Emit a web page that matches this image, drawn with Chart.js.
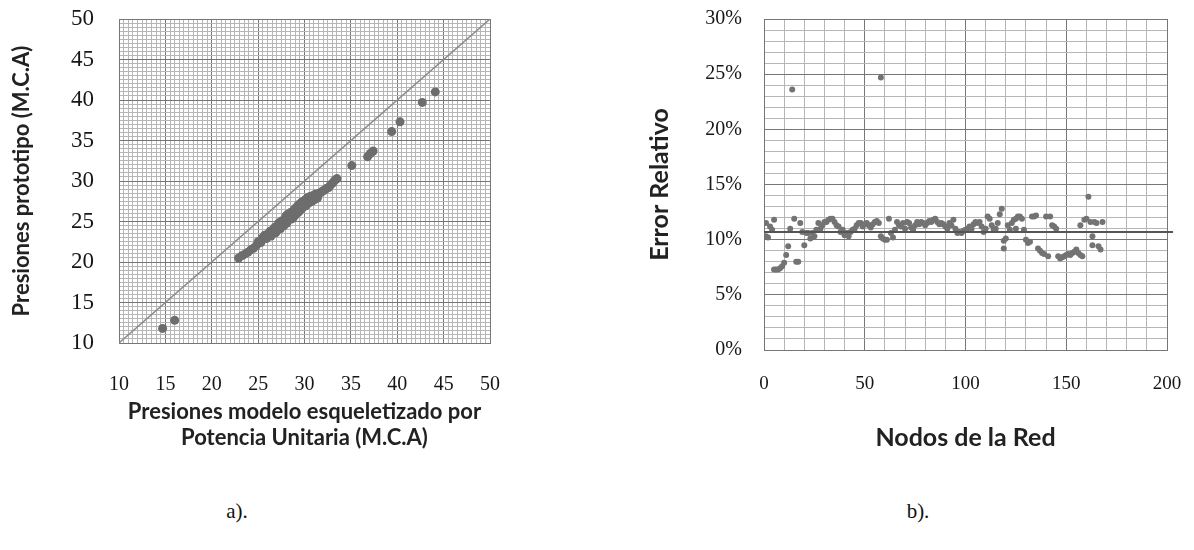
<!DOCTYPE html>
<html>
<head>
<meta charset="utf-8">
<script src="https://cdn.jsdelivr.net/npm/chart.js@4.4.0/dist/chart.umd.min.js"></script>
<style>
  body { margin: 0; background: #fff; width: 1194px; height: 550px; overflow: hidden; position: relative; }
  canvas { position: absolute; top: 0; }
  #chartA { left: 0; }
  #chartB { left: 600px; }
  .cap { position: absolute; top: 499px; font: 21px "Liberation Serif", serif; color: #111; transform: translateX(-50%); }
</style>
</head>
<body>
<canvas id="chartA" width="560" height="470"></canvas>
<canvas id="chartB" width="594" height="470"></canvas>
<div class="cap" style="left:237px">a).</div>
<div class="cap" style="left:918px">b).</div>
<script>
// a) presiones: modelo esqueletizado (x) vs prototipo (y), M.C.A
const presModelo = [
  14.7, 16.0,
  22.9, 23.3, 23.6, 23.9, 24.2, 24.5, 24.8, 25.0, 25.3, 25.5,
  25.7, 25.9, 26.1, 26.3, 26.4, 26.6, 26.8, 26.9, 27.1, 27.2,
  27.4, 27.5, 27.6, 27.8, 27.9, 28.0, 28.1, 28.2, 28.3, 28.5,
  28.6, 28.7, 28.8, 28.9, 29.0, 29.1, 29.2, 29.3, 29.4, 29.5,
  29.6, 29.7, 29.8, 29.9, 30.0, 30.1, 30.2, 30.3, 30.5, 30.6,
  30.8, 30.9, 31.1, 31.2, 31.4, 31.6, 31.8, 32.0, 32.2, 32.4,
  32.6, 32.8, 33.0, 33.2, 33.4, 33.5,
  35.1, 36.8, 37.1, 37.4, 39.4, 40.3, 42.7, 44.1
];
const presPrototipo = [
  11.8, 12.8,
  20.5, 20.8, 21.0, 21.2, 21.5, 21.7, 22.0, 22.5, 22.4, 23.0,
  23.3, 22.9, 23.5, 23.8, 23.2, 24.0, 24.3, 23.6, 24.4, 24.8,
  24.1, 25.0, 25.1, 24.5, 25.3, 25.7, 24.8, 25.9, 25.2, 26.1,
  25.3, 26.2, 25.5, 26.5, 25.8, 26.7, 26.0, 27.0, 26.2, 27.2,
  26.5, 27.4, 26.7, 27.5, 26.9, 27.7, 27.0, 27.9, 27.3, 28.1,
  27.5, 28.2, 27.7, 28.4, 27.9, 28.5, 28.6, 28.8, 28.9, 29.1,
  29.2, 29.5, 29.7, 30.0, 30.2, 30.3,
  31.9, 33.0, 33.4, 33.7, 36.1, 37.3, 39.7, 41.0
];
const identidad = [10, 50];
const ticksPresion = [10, 15, 20, 25, 30, 35, 40, 45, 50];

// b) error relativo por nodo de la red (%)
const nodos = [
  1, 1, 2, 3, 4, 5, 5, 6, 7, 8,
  9, 10, 11, 12, 13, 14, 15, 16, 17, 18,
  19, 20, 21, 22, 23, 24, 25, 26, 27, 28,
  29, 30, 31, 32, 33, 34, 35, 36, 37, 38,
  39, 40, 41, 42, 43, 44, 45, 46, 47, 48,
  49, 50, 51, 52, 53, 54, 55, 56, 57, 58,
  58, 59, 60, 61, 62, 63, 64, 65, 66, 67,
  68, 69, 70, 71, 72, 73, 74, 75, 76, 77,
  78, 79, 80, 81, 82, 83, 84, 85, 86, 87,
  88, 89, 90, 91, 92, 93, 94, 95, 96, 97,
  98, 99, 100, 101, 102, 103, 104, 105, 106, 107,
  108, 109, 110, 111, 112, 113, 114, 115, 116, 117,
  118, 119, 119, 120, 121, 122, 123, 124, 125, 125,
  126, 127, 128, 129, 130, 131, 132, 133, 134, 135,
  136, 137, 138, 139, 140, 141, 142, 143, 144, 145,
  146, 147, 148, 149, 150, 151, 152, 153, 154, 155,
  156, 157, 157, 158, 159, 160, 161, 162, 163, 163,
  164, 165, 166, 167, 168
];
const errorRel = [
  10.3, 11.5, 10.2, 11.2, 10.9, 11.8, 7.3, 7.3, 7.3, 7.4,
  7.6, 7.9, 8.6, 9.4, 11.0, 23.6, 11.9, 8.0, 8.0, 11.5,
  10.7, 9.5, 10.6, 10.6, 10.1, 10.6, 10.3, 10.9, 11.5, 11.0,
  11.3, 11.6, 11.6, 11.8, 11.9, 11.9, 11.6, 11.3, 11.2, 10.7,
  10.9, 10.4, 10.6, 10.3, 10.7, 10.9, 11.0, 11.3, 11.5, 11.5,
  11.2, 11.4, 11.5, 11.3, 11.1, 11.4, 11.6, 11.7, 11.5, 24.7,
  10.3, 10.1, 10.0, 10.0, 11.9, 10.6, 10.2, 10.9, 11.6, 11.3,
  11.2, 11.5, 11.0, 11.6, 11.5, 11.1, 10.9, 11.3, 11.6, 11.4,
  11.6, 11.5, 11.3, 11.5, 11.7, 11.6, 11.8, 11.9, 11.6, 11.4,
  11.5, 11.4, 11.2, 11.0, 11.5, 11.3, 11.8, 11.0, 10.6, 10.7,
  10.6, 10.8, 10.9, 11.0, 11.2, 11.0, 11.4, 11.6, 11.5, 11.6,
  11.2, 10.7, 11.0, 12.1, 11.9, 11.3, 10.9, 11.0, 11.5, 12.3,
  12.8, 9.2, 9.9, 10.1, 11.3, 10.9, 11.5, 11.8, 11.9, 11.0,
  12.1, 12.1, 11.9, 10.9, 10.0, 9.7, 9.8, 12.1, 12.1, 12.2,
  9.2, 9.0, 8.8, 8.7, 12.1, 8.5, 12.1, 11.3, 11.2, 11.0,
  8.5, 8.3, 8.4, 8.5, 8.6, 8.7, 8.6, 8.8, 8.9, 9.1,
  8.8, 8.6, 11.3, 8.5, 11.8, 11.9, 13.9, 11.6, 10.3, 9.5,
  11.6, 11.5, 9.4, 9.1, 11.6
];
const errorMedio = 10.7;
const ticksNodos = [0, 50, 100, 150, 200];
const ticksError = [0, 5, 10, 15, 20, 25, 30];

const serif = "'Liberation Serif', serif";
const sans = "Lato, 'Open Sans', sans-serif";
const MAJOR = '#767676', MINOR = '#b6b6b6';

// scale with fine grid, darker lines on the labelled ticks
function gridScale(min, max, step, labels, fmt, fit, tickPad, tickSize, title) {
  return {
    type: 'linear', min: min, max: max,
    afterFit: fit,
    border: { color: MAJOR, width: 1 },
    grid: {
      drawTicks: false,
      lineWidth: 1,
      color: (c) => labels.includes(c.tick.value) ? MAJOR : MINOR
    },
    ticks: {
      stepSize: step, autoSkip: false, maxRotation: 0, minRotation: 0,
      padding: tickPad, color: '#161616', font: { family: serif, size: tickSize },
      callback: (v) => labels.includes(v) ? fmt(v) : ''
    },
    title: title
  };
}
// fixed axis boxes so the plot areas sit where the original ones do
const fitX = (h) => (s) => { s.height = h; s.paddingLeft = 0; s.paddingRight = 0; };
const fitY = (w) => (s) => { s.width = w; s.paddingTop = 0; s.paddingBottom = 0; };

new Chart(document.getElementById('chartA'), {
  type: 'scatter',
  data: {
    datasets: [
      {
        data: identidad.map((v) => ({ x: v, y: v })),
        showLine: true, borderColor: '#8c8c8c', borderWidth: 1.5,
        pointRadius: 0
      },
      {
        data: presModelo.map((v, i) => ({ x: v, y: presPrototipo[i] })),
        backgroundColor: '#6d6d6d', borderColor: '#6d6d6d',
        pointRadius: 4.5, borderWidth: 0
      }
    ]
  },
  options: {
    responsive: false, animation: false,
    layout: { padding: { left: 0, right: 70, top: 19, bottom: 0 } },
    plugins: { legend: { display: false }, tooltip: { enabled: false } },
    scales: {
      x: gridScale(10, 50, 0.5, ticksPresion, (v) => v, fitX(127), 30, 20, {
        display: true, color: '#222', padding: { bottom: 19 },
        font: { family: sans, size: 22, weight: 'bold', lineHeight: 26 / 22 },
        text: ['Presiones modelo esqueletizado por', 'Potencia Unitaria (M.C.A)']
      }),
      y: gridScale(10, 50, 0.5, ticksPresion, (v) => v, fitY(119), 25, 23, {
        display: true, color: '#222', padding: { top: 9 },
        font: { family: sans, size: 22, weight: 'bold', lineHeight: 1.2 },
        text: 'Presiones prototipo (M.C.A)'
      })
    }
  }
});

new Chart(document.getElementById('chartB'), {
  type: 'scatter',
  data: {
    datasets: [
      {
        data: [{ x: 0, y: errorMedio }, { x: 203, y: errorMedio }],
        showLine: true, borderColor: '#555', borderWidth: 2,
        pointRadius: 0, clip: false
      },
      {
        data: nodos.map((v, i) => ({ x: v, y: errorRel[i] })),
        backgroundColor: '#737373', borderColor: '#737373',
        pointRadius: 3, borderWidth: 0
      }
    ]
  },
  options: {
    responsive: false, animation: false,
    layout: { padding: { left: 0, right: 27, top: 19, bottom: 0 } },
    plugins: { legend: { display: false }, tooltip: { enabled: false } },
    scales: {
      x: gridScale(0, 200, 10, ticksNodos, (v) => v, fitX(120), 23, 19, {
        display: true, color: '#222', padding: { bottom: 17 },
        font: { family: sans, size: 25, weight: 'bold', lineHeight: 1.2 },
        text: 'Nodos de la Red'
      }),
      y: gridScale(0, 30, 1, ticksError, (v) => v + '%', fitY(164), 22, 20, {
        display: true, color: '#222', padding: { top: 45 },
        font: { family: sans, size: 25, weight: 'bold', lineHeight: 1.2 },
        text: 'Error Relativo'
      })
    }
  }
});
</script>
</body>
</html>
